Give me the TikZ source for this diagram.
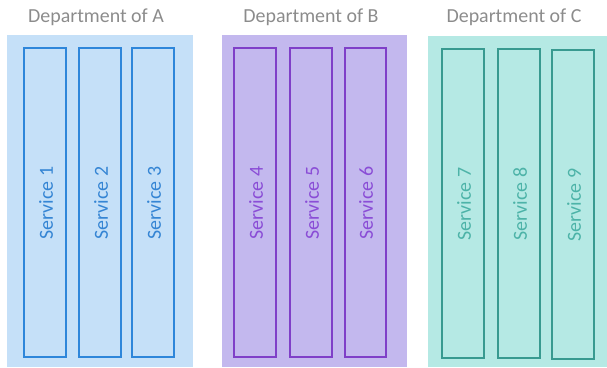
\documentclass[tikz,border=0pt]{standalone}
\usepackage{fontspec}
\setmainfont{Carlito}
\definecolor{fillA}{HTML}{C5E0F8}
\definecolor{lineA}{HTML}{2E86DA}
\definecolor{textA}{HTML}{3585D4}
\definecolor{fillB}{HTML}{C3B8EE}
\definecolor{lineB}{HTML}{7F3FC8}
\definecolor{textB}{HTML}{8A4DD6}
\definecolor{fillC}{HTML}{B5E9E4}
\definecolor{lineC}{HTML}{389A90}
\definecolor{textC}{HTML}{4DB3A8}
\definecolor{deptgray}{HTML}{8C8C8C}
\tikzset{
  dept/.style={font=\fontsize{20}{24}\selectfont, text=deptgray, inner sep=0pt},
  svcbox/.style={line width=2.9bp},
  svclabel/.style={font=\fontsize{20}{24}\selectfont, rotate=90, inner sep=0pt}
}
\begin{document}
\begin{tikzpicture}[x=1bp,y=-1bp]
\useasboundingbox (0,0) rectangle (607,367);
% panels
\fill[fillA] (7,35) rectangle (193,367);
\fill[fillB] (222,35) rectangle (407,367);
\fill[fillC] (428,36) rectangle (607,367);
% department titles
\node[dept] (dA) at (96,17) {Department of A};
\node[dept] (dB) at (311,17) {Department of B};
\node[dept] (dC) at (514,17) {Department of C};
% services A
\draw[svcbox, lineA] (24,48) rectangle (66,357);
\draw[svcbox, lineA] (79,48) rectangle (121,357);
\draw[svcbox, lineA] (132,48) rectangle (174,357);
\node[svclabel, text=textA] (s1) at (46,203) {Service 1};
\node[svclabel, text=textA] (s2) at (101,203) {Service 2};
\node[svclabel, text=textA] (s3) at (154,203) {Service 3};
% services B
\draw[svcbox, lineB] (234,48) rectangle (276,357);
\draw[svcbox, lineB] (290,48) rectangle (332,357);
\draw[svcbox, lineB] (345,48) rectangle (386,357);
\node[svclabel, text=textB] (s4) at (256,203) {Service 4};
\node[svclabel, text=textB] (s5) at (312,203) {Service 5};
\node[svclabel, text=textB] (s6) at (366,203) {Service 6};
% services C
\draw[svcbox, lineC] (442,49) rectangle (484,358);
\draw[svcbox, lineC] (498,49) rectangle (540,358);
\draw[svcbox, lineC] (552,50) rectangle (594,359);
\node[svclabel, text=textC] (s7) at (464,204) {Service 7};
\node[svclabel, text=textC] (s8) at (520,204) {Service 8};
\node[svclabel, text=textC] (s9) at (574,205) {Service 9};
\end{tikzpicture}
\end{document}
